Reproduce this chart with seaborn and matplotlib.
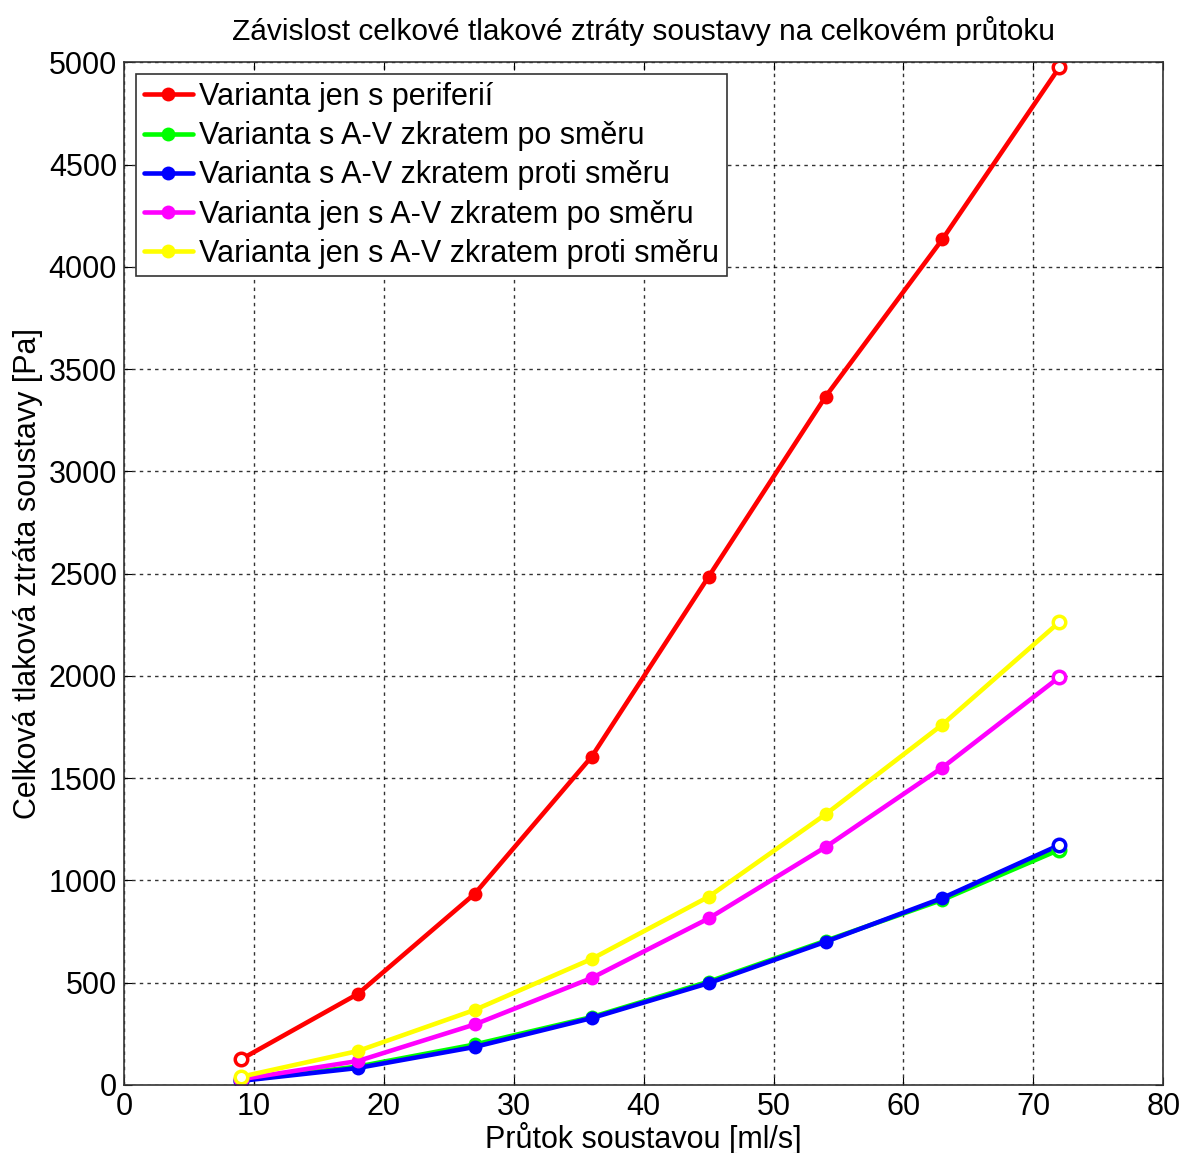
import matplotlib
matplotlib.use("Agg")
import matplotlib.pyplot as plt
import seaborn as sns
import pandas as pd

# flow through the system [ml/s]
flow = [9, 18, 27, 36, 45, 54, 63, 72]

# total pressure loss [Pa]
periferie = [125, 445, 935, 1605, 2485, 3365, 4135, 4975]
av_po = [22, 90, 198, 332, 505, 705, 905, 1150]
av_proti = [20, 83, 186, 327, 498, 700, 914, 1173]
jen_av_po = [28, 117, 296, 523, 814, 1163, 1552, 1994]
jen_av_proti = [40, 166, 367, 616, 920, 1323, 1762, 2263]

labels = ["Varianta jen s periferií",
          "Varianta s A-V zkratem po směru",
          "Varianta s A-V zkratem proti směru",
          "Varianta jen s A-V zkratem po směru",
          "Varianta jen s A-V zkratem proti směru"]
colors = ["#ff0000", "#00ff00", "#0000ff", "#ff00ff", "#ffff00"]

series = [periferie, av_po, av_proti, jen_av_po, jen_av_proti]
df = pd.concat([pd.DataFrame({"flow": flow, "loss": s, "variant": lab})
                for s, lab in zip(series, labels)], ignore_index=True)

sns.set_style("ticks")
plt.rcParams["font.family"] = ["Liberation Sans", "DejaVu Sans"]
plt.rcParams["text.color"] = "black"
plt.rcParams["axes.labelcolor"] = "black"

fig = plt.figure(figsize=(11.81, 11.53), dpi=100)
ax = fig.add_axes([0.105, 0.059, 0.880, 0.887])

palette = dict(zip(labels, colors))
sns.lineplot(data=df, x="flow", y="loss", hue="variant", palette=palette,
             hue_order=labels, marker="o", markersize=10, markeredgewidth=0,
             linewidth=3.3, ax=ax, legend=True)

# hollow markers at the ends (as in the original MATLAB figure)
for s, c in zip(series, colors):
    ax.plot([flow[0], flow[-1]], [s[0], s[-1]], linestyle="none", marker="o",
            markersize=9, markerfacecolor="white", markeredgecolor=c,
            markeredgewidth=2.5)

ax.set_xlim(0, 80)
ax.set_ylim(0, 5000)
ax.set_xticks(range(0, 81, 10))
ax.set_yticks(range(0, 5001, 500))
ax.tick_params(direction="in", length=6, labelsize=22, top=True, right=True,
               colors="black", pad=5)
for sp in ax.spines.values():
    sp.set_visible(True)
    sp.set_color("#333333")
    sp.set_linewidth(1.2)
ax.grid(True, color="black", linestyle=(0, (2.5, 3)), linewidth=1.0, alpha=0.8)

ax.set_title("Závislost celkové tlakové ztráty soustavy na celkovém průtoku",
             fontsize=21.5, pad=16)
ax.set_xlabel("Průtok soustavou [ml/s]", fontsize=22, labelpad=0)
ax.set_ylabel("Celková tlaková ztráta soustavy [Pa]", fontsize=22, labelpad=4)

leg = ax.legend(loc="upper left", fontsize=22, frameon=True, fancybox=False,
                edgecolor="#333333", framealpha=1, handlelength=1.6,
                handletextpad=0.2, borderpad=0.25, labelspacing=0.3,
                borderaxespad=0.4)
leg.get_frame().set_linewidth(1.2)

fig.savefig("out.png", dpi=100)
